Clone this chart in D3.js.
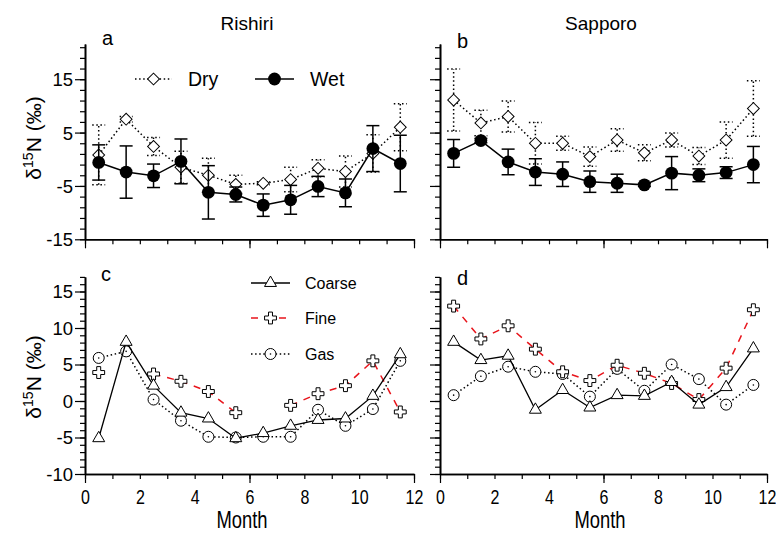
<!DOCTYPE html>
<html>
<head>
<meta charset="utf-8">
<script src="https://cdn.jsdelivr.net/npm/d3@7"></script>
<style>
  body { margin: 0; background: #fff; }
  svg { display: block; font-family: "Liberation Sans", Arial, sans-serif; }
</style>
</head>
<body>
<div id="app"></div>
<script>
// ------------------------------------------------------------
// Data
// ------------------------------------------------------------
const months = [0.5, 1.5, 2.5, 3.5, 4.5, 5.5, 6.5, 7.5, 8.5, 9.5, 10.5, 11.5];

// precipitation d15N, Rishiri (panel a)
const rishiriDry    = [0.8, 7.5, 2.4, -1.5, -3.0, -4.7, -4.5, -3.8, -1.7, -2.3, 1.1, 6.0];
const rishiriDryErr = [5.6, 0.5, 1.7, 3.0, 3.2, 1.7, 0.3, 2.3, 1.6, 2.9, 3.5, 4.4];
const rishiriWet    = [-0.6, -2.4, -3.1, -0.4, -6.2, -6.6, -8.6, -7.6, -5.1, -6.3, 2.0, -0.8];
const rishiriWetErr = [3.3, 4.9, 2.2, 4.2, 5.0, 1.4, 2.1, 2.7, 1.9, 2.6, 4.3, 5.3];

// precipitation d15N, Sapporo (panel b)
const sapporoDry    = [11.1, 6.8, 8.0, 3.0, 3.0, 0.5, 3.6, 1.2, 3.6, 0.6, 3.6, 9.5];
const sapporoDryErr = [5.8, 2.4, 2.9, 3.9, 1.3, 1.8, 2.1, 1.5, 1.3, 1.6, 3.4, 5.2];
const sapporoWet    = [1.1, 3.5, -0.5, -2.4, -2.8, -4.2, -4.5, -4.8, -2.6, -3.0, -2.5, -1.0];
const sapporoWetErr = [2.6, 0.4, 2.4, 2.5, 2.3, 2.0, 1.7, 0.3, 3.1, 1.2, 1.1, 3.4];

// aerosol / gas d15N, Rishiri (panel c)
const rishiriCoarse = [-5.1, 8.1, 2.1, -1.6, -2.4, -5.1, -4.4, -3.4, -2.6, -2.4, 0.7, 6.4];
const rishiriFine   = [3.9, null, 3.7, 2.7, 1.3, -1.6, null, -0.6, 1.0, 2.1, 5.5, -1.5];
const rishiriGas    = [5.9, 6.8, 0.2, -2.7, -4.9, -5.0, -4.9, -4.9, -1.2, -3.4, -1.1, 5.5];

// aerosol / gas d15N, Sapporo (panel d)
const sapporoCoarse = [8.1, 5.6, 6.2, -1.2, 1.5, -0.9, 0.8, 0.7, 2.6, -0.5, 1.9, 7.2];
const sapporoFine   = [13.0, 8.5, 10.3, 7.1, 4.0, 2.8, 4.9, 3.8, 2.4, 0.2, 4.5, 12.5];
const sapporoGas    = [0.8, 3.4, 4.7, 4.0, 3.7, 0.6, 4.4, 1.4, 5.0, 3.0, -0.5, 2.2];

// ticks
const xMinorTicks = [0, 1, 2, 3, 4, 5, 6, 7, 8, 9, 10, 11, 12];
const xMajorTicks = [0, 6, 12];
const xTickLabels = [0, 2, 4, 6, 8, 10, 12];
const topMajorTicks = [-15, -5, 5, 15];
const topMinorTicks = [-15, -13, -11, -9, -7, -5, -3, -1, 1, 3, 5, 7, 9, 11, 13, 15, 17, 19, 21];
const botMajorTicks = [-10, -5, 0, 5, 10, 15];
const botMinorTicks = [-10, -9, -8, -7, -6, -5, -4, -3, -2, -1, 0, 1, 2, 3, 4, 5, 6, 7, 8, 9, 10, 11, 12, 13, 14, 15, 16, 17];

// ------------------------------------------------------------
// Canvas and scales
// ------------------------------------------------------------
const W = 776, H = 536;
const svg = d3.select('#app').append('svg').attr('width', W).attr('height', H);

const xLeft  = d3.scaleLinear().domain([0, 12]).range([85, 414]);
const xRight = d3.scaleLinear().domain([0, 12]).range([440, 767]);
const yTop   = d3.scaleLinear().domain([-15, 21.6]).range([239.3, 44]);
const yBot   = d3.scaleLinear().domain([-10, 17]).range([474, 276.9]);

const dotted = '1.5,2.6';
const narrow = 'scale(0.8,1)';   // condensed look of the month labels

// ------------------------------------------------------------
// Axes
// ------------------------------------------------------------
function drawAxes(x, y, yMajor, yMinor, withYLabels, withXLabels) {
  const g = svg.append('g');
  const x0 = x.range()[0], y0 = y.range()[0];

  const ax = (axis) => g.append('g').attr('transform', `translate(0,${y0})`).call(axis);
  const ay = (axis) => g.append('g').attr('transform', `translate(${x0},0)`).call(axis);

  ax(d3.axisBottom(x).tickValues(xMinorTicks).tickSize(5).tickSizeOuter(0).tickFormat(''));
  ax(d3.axisBottom(x).tickValues(xMajorTicks).tickSize(9).tickSizeOuter(0).tickFormat(''));
  ay(d3.axisLeft(y).tickValues(yMinor).tickSize(5).tickSizeOuter(0).tickFormat(''));
  const yMaj = ay(d3.axisLeft(y).tickValues(yMajor).tickSize(10).tickSizeOuter(0)
    .tickFormat(withYLabels ? d3.format('d') : () => ''));
  if (withYLabels) {
    yMaj.selectAll('text').attr('font-size', 18.5).attr('x', -12).attr('dy', '0.35em')
      .attr('fill', '#000').text(d => String(d));
  }

  if (withXLabels) {
    const xl = ax(d3.axisBottom(x).tickValues(xTickLabels).tickSize(0).tickSizeOuter(0));
    xl.select('.domain').remove();
    xl.selectAll('text').attr('font-size', 20).attr('y', 12).attr('dy', '0.9em')
      .attr('fill', '#000').attr('transform', narrow);
  }

  g.selectAll('.domain').attr('stroke', '#000').attr('stroke-width', 1.6);
  g.selectAll('.tick line').attr('stroke', '#000').attr('stroke-width', 1.2);
  g.selectAll('text').attr('font-family', null);
  return g;
}

drawAxes(xLeft, yTop, topMajorTicks, topMinorTicks, true, false);
drawAxes(xRight, yTop, topMajorTicks, topMinorTicks, false, false);
drawAxes(xLeft, yBot, botMajorTicks, botMinorTicks, true, true);
drawAxes(xRight, yBot, botMajorTicks, botMinorTicks, false, true);

// ------------------------------------------------------------
// Marker helpers
// ------------------------------------------------------------
const sym = {
  diamond: d3.symbol().type(d3.symbolSquare).size(70)(),
  triangle: d3.symbol().type(d3.symbolTriangle).size(62)(),
  cross: d3.symbol().type(d3.symbolCross).size(78)()
};

function marker(g, kind, cx, cy) {
  if (kind === 'wet') {
    g.append('circle').attr('cx', cx).attr('cy', cy).attr('r', 6.4).attr('fill', '#000');
  } else if (kind === 'dry') {
    g.append('path').attr('d', sym.diamond)
      .attr('transform', `translate(${cx},${cy}) rotate(45)`)
      .attr('fill', '#fff').attr('stroke', '#000').attr('stroke-width', 1);
  } else if (kind === 'coarse') {
    g.append('path').attr('d', sym.triangle).attr('transform', `translate(${cx},${cy})`)
      .attr('fill', '#fff').attr('stroke', '#000').attr('stroke-width', 1);
  } else if (kind === 'fine') {
    g.append('path').attr('d', sym.cross).attr('transform', `translate(${cx},${cy})`)
      .attr('fill', '#fff').attr('stroke', '#000').attr('stroke-width', 1);
  } else if (kind === 'gas') {
    g.append('circle').attr('cx', cx).attr('cy', cy).attr('r', 5.5)
      .attr('fill', '#fff').attr('stroke', '#000').attr('stroke-width', 1);
    g.append('circle').attr('cx', cx).attr('cy', cy).attr('r', 0.8).attr('fill', '#000');
  }
}

const lineStyle = {
  dry: { stroke: '#000', dash: dotted, width: 1.5 },
  wet: { stroke: '#000', dash: null, width: 1.5 },
  coarse: { stroke: '#000', dash: null, width: 1.3 },
  fine: { stroke: '#e8141b', dash: '7,7', width: 1.5 },
  gas: { stroke: '#000', dash: dotted, width: 1.5 }
};

function series(x, y, values, kind, errs) {
  const g = svg.append('g');
  const pts = months.map((m, i) => ({ m, v: values[i], e: errs ? errs[i] : 0 }));
  const st = lineStyle[kind];

  // error bars
  if (errs) {
    pts.forEach(p => {
      const cx = x(p.m);
      const eb = g.append('g').attr('stroke', '#000').attr('stroke-width', 1.5)
        .attr('stroke-dasharray', kind === 'dry' ? dotted : null);
      eb.append('line').attr('x1', cx).attr('x2', cx).attr('y1', y(p.v - p.e)).attr('y2', y(p.v + p.e));
      [p.v - p.e, p.v + p.e].forEach(v => {
        eb.append('line').attr('x1', cx - 6.5).attr('x2', cx + 6.5).attr('y1', y(v)).attr('y2', y(v));
      });
    });
  }

  const line = d3.line().defined(d => d.v !== null).x(d => x(d.m)).y(d => y(d.v));
  g.append('path').datum(pts).attr('d', line).attr('fill', 'none')
    .attr('stroke', st.stroke).attr('stroke-width', st.width)
    .attr('stroke-dasharray', st.dash);

  pts.filter(p => p.v !== null).forEach(p => marker(g, kind, x(p.m), y(p.v)));
}

// panel a / b
series(xLeft, yTop, rishiriDry, 'dry', rishiriDryErr);
series(xLeft, yTop, rishiriWet, 'wet', rishiriWetErr);
series(xRight, yTop, sapporoDry, 'dry', sapporoDryErr);
series(xRight, yTop, sapporoWet, 'wet', sapporoWetErr);

// panel c / d
series(xLeft, yBot, rishiriGas, 'gas');
series(xLeft, yBot, rishiriFine, 'fine');
series(xLeft, yBot, rishiriCoarse, 'coarse');
series(xRight, yBot, sapporoGas, 'gas');
series(xRight, yBot, sapporoFine, 'fine');
series(xRight, yBot, sapporoCoarse, 'coarse');

// ------------------------------------------------------------
// Legends
// ------------------------------------------------------------
function legendItem(kind, x1, x2, cy, label, tx, size) {
  const g = svg.append('g');
  const st = lineStyle[kind];
  g.append('line').attr('x1', x1).attr('x2', x2).attr('y1', cy).attr('y2', cy)
    .attr('stroke', st.stroke).attr('stroke-width', st.width).attr('stroke-dasharray', st.dash);
  marker(g, kind, (x1 + x2) / 2, cy);
  g.append('text').attr('x', tx).attr('y', cy).attr('dy', '0.35em')
    .attr('font-size', size).text(label);
}

legendItem('dry', 135, 172, 79, 'Dry', 188, 19.5);
legendItem('wet', 255, 294, 79, 'Wet', 310, 19.5);
legendItem('coarse', 251, 290, 283, 'Coarse', 305, 16);
legendItem('fine', 251, 290, 318, 'Fine', 305, 16);
legendItem('gas', 251, 290, 354, 'Gas', 305, 16);

// ------------------------------------------------------------
// Titles and labels
// ------------------------------------------------------------
const text = (x, y, s, size, anchor = 'middle') =>
  svg.append('text').attr('x', x).attr('y', y).attr('font-size', size)
    .attr('text-anchor', anchor).text(s);

text(247, 30, 'Rishiri', 19);
text(601, 30, 'Sapporo', 19);
text(102, 45, 'a', 20, 'start');
text(457, 48, 'b', 20, 'start');
text(101, 281, 'c', 20, 'start');
text(457, 285, 'd', 20, 'start');

[138, 377].forEach(cy => {
  const t = svg.append('text').attr('transform', `translate(41,${cy}) rotate(-90)`)
    .attr('text-anchor', 'middle').attr('font-size', 21);
  t.append('tspan').text('δ');
  t.append('tspan').attr('font-size', 14).attr('dy', -8).text('15');
  t.append('tspan').attr('dy', 8).text('N (‰)');
});

[242, 600].forEach(cx => {
  svg.append('text').attr('transform', `translate(${cx},528) ${narrow}`)
    .attr('text-anchor', 'middle').attr('font-size', 23).text('Month');
});
</script>
</body>
</html>
